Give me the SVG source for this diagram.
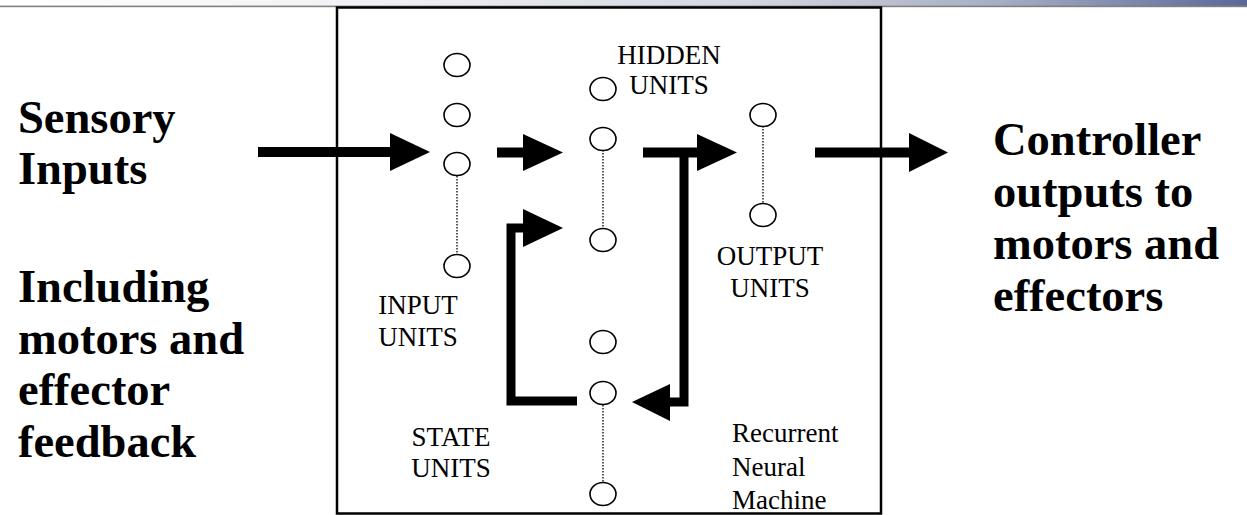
<svg xmlns="http://www.w3.org/2000/svg" width="1247" height="515" viewBox="0 0 1247 515">
  <defs>
    <linearGradient id="topBand" x1="0" y1="0" x2="1" y2="0">
      <stop offset="0" stop-color="#ffffff"/>
      <stop offset="0.3" stop-color="#f0f1f4"/>
      <stop offset="0.6" stop-color="#d2d6e0"/>
      <stop offset="0.8" stop-color="#a7aec4"/>
      <stop offset="1" stop-color="#5a6899"/>
    </linearGradient>
    <style>
      .unit { fill: #ffffff; stroke: #000000; stroke-width: 1.6; }
      .dots { stroke: #000000; stroke-width: 1.3; stroke-dasharray: 1.5 1.5; fill: none; }
      .shaft { fill: #000000; }
      .loop { fill: none; stroke: #000000; stroke-width: 9; stroke-linejoin: miter; }
      .big { font-family: "Liberation Serif", "Times New Roman", serif; font-weight: bold; font-size: 46.5px; fill: #000000; }
      .small { font-family: "Liberation Serif", "Times New Roman", serif; font-size: 27px; fill: #000000; }
      .mid { text-anchor: middle; }
    </style>
  </defs>

  <rect width="1247" height="515" fill="#ffffff"/>

  <!-- title band across the top -->
  <rect x="0" y="0" width="1247" height="6" fill="url(#topBand)"/>
  <rect x="0" y="5.6" width="1247" height="1.6" fill="#808080"/>

  <!-- machine frame -->
  <g id="machine-frame">
    <rect x="337" y="7.5" width="544" height="506" fill="none" stroke="#000000" stroke-width="2.5"/>
  </g>

  <!-- side captions -->
  <g id="sensory-inputs">
    <text class="big" x="18" y="133">Sensory</text>
    <text class="big" x="18" y="184">Inputs</text>
    <text class="big" x="18" y="302">Including</text>
    <text class="big" x="18" y="354">motors and</text>
    <text class="big" x="18" y="405">effector</text>
    <text class="big" x="18" y="457">feedback</text>
  </g>
  <g id="controller-outputs">
    <text class="big" x="993" y="155">Controller</text>
    <text class="big" x="993" y="207">outputs to</text>
    <text class="big" x="993" y="259">motors and</text>
    <text class="big" x="993" y="311">effectors</text>
  </g>

  <!-- unit layers -->
  <g id="input-units">
    <line class="dots" x1="457" y1="176" x2="457" y2="254"/>
    <ellipse class="unit" cx="457" cy="65" rx="13" ry="11.5"/>
    <ellipse class="unit" cx="457" cy="115" rx="13" ry="11.5"/>
    <ellipse class="unit" cx="457" cy="164" rx="13" ry="11.5"/>
    <ellipse class="unit" cx="457" cy="266" rx="13" ry="11.5"/>
    <text class="small mid" x="418" y="314">INPUT</text>
    <text class="small mid" x="418" y="346">UNITS</text>
  </g>

  <g id="hidden-units">
    <line class="dots" x1="603" y1="150" x2="603" y2="228"/>
    <ellipse class="unit" cx="603" cy="89" rx="13" ry="11.5"/>
    <ellipse class="unit" cx="603" cy="139" rx="13" ry="11.5"/>
    <ellipse class="unit" cx="603" cy="240" rx="13" ry="11.5"/>
    <text class="small mid" x="669" y="64">HIDDEN</text>
    <text class="small mid" x="669" y="94">UNITS</text>
  </g>

  <g id="output-units">
    <line class="dots" x1="763" y1="126" x2="763" y2="203"/>
    <ellipse class="unit" cx="763" cy="115" rx="13" ry="11.5"/>
    <ellipse class="unit" cx="763" cy="215" rx="13" ry="11.5"/>
    <text class="small mid" x="770" y="265">OUTPUT</text>
    <text class="small mid" x="770" y="297">UNITS</text>
  </g>

  <g id="state-units">
    <line class="dots" x1="603" y1="405" x2="603" y2="482"/>
    <ellipse class="unit" cx="603" cy="342" rx="13" ry="11.5"/>
    <ellipse class="unit" cx="603" cy="393" rx="13" ry="11.5"/>
    <ellipse class="unit" cx="603" cy="494" rx="13" ry="11.5"/>
    <text class="small mid" x="451" y="446">STATE</text>
    <text class="small mid" x="451" y="477">UNITS</text>
  </g>

  <g id="machine-label">
    <text class="small" x="732" y="442">Recurrent</text>
    <text class="small" x="732" y="476">Neural</text>
    <text class="small" x="732" y="509">Machine</text>
  </g>

  <!-- connectors -->
  <g id="connectors">
    <!-- sensory inputs into the input layer -->
    <rect class="shaft" x="258" y="147" width="134" height="10"/>
    <polygon points="390,133 430,152 390,171"/>
    <!-- input layer to hidden layer -->
    <rect class="shaft" x="497" y="147.5" width="28" height="10"/>
    <polygon points="523,134 563,152.5 523,171"/>
    <!-- hidden layer to output layer -->
    <rect class="shaft" x="643" y="147.5" width="56" height="10"/>
    <polygon points="697,134 737,152.5 697,171"/>
    <!-- output layer to controller outputs -->
    <rect class="shaft" x="815" y="147.5" width="96" height="10"/>
    <polygon points="909,133 948,152.5 909,172"/>
    <!-- hidden activity copied back to the state layer -->
    <path class="loop" d="M684,152 V402 H668"/>
    <polygon points="670,384 632,402 670,421"/>
    <!-- state layer fed back into the hidden layer -->
    <path class="loop" d="M577,401 H511 V228 H525"/>
    <polygon points="523,209 563,228 523,247"/>
  </g>
</svg>
